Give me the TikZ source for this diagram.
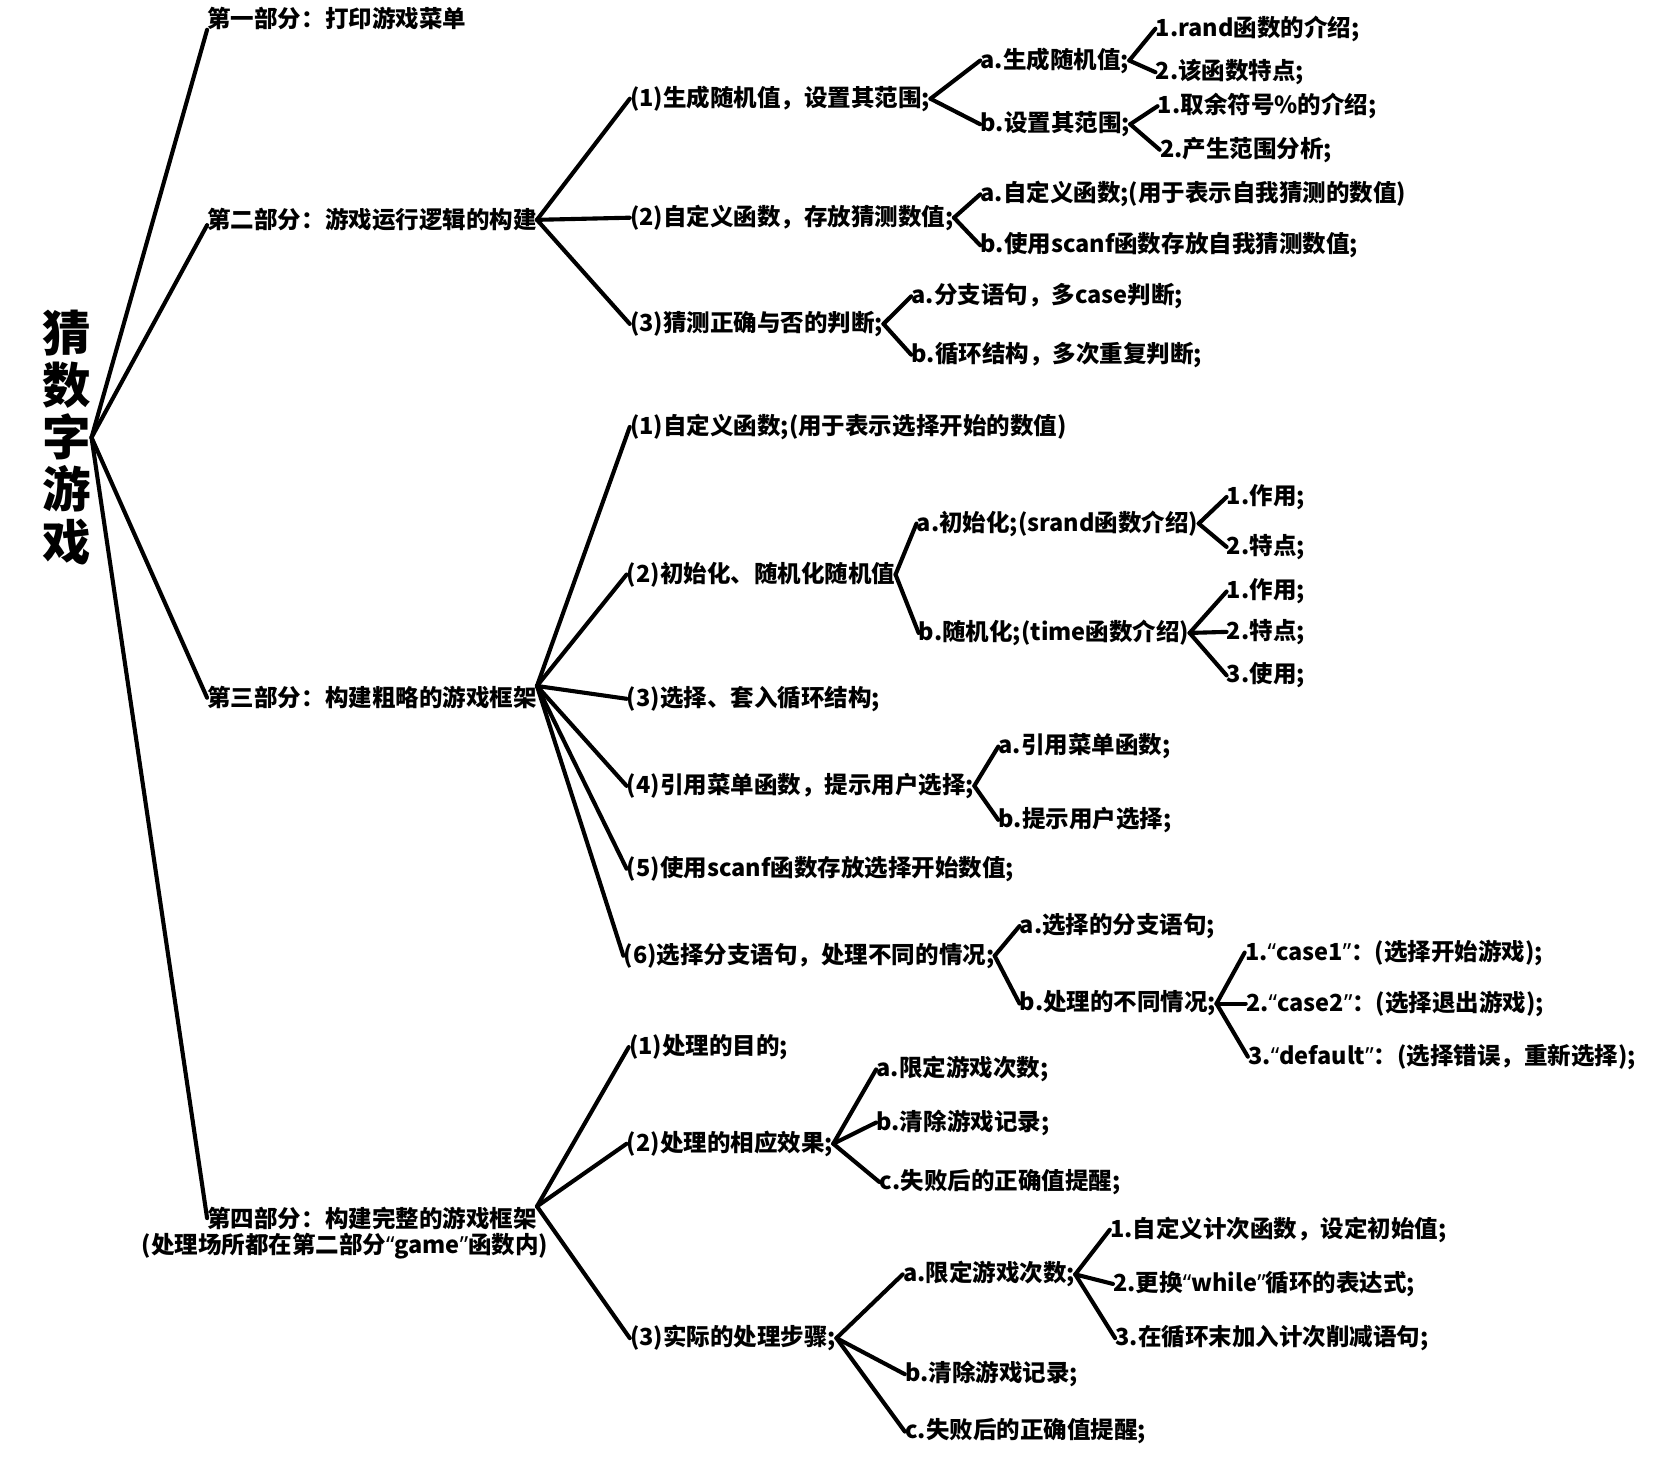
\documentclass[tikz,border=0pt]{standalone}
\usepackage{fontspec}
\setmainfont{Noto Sans CJK SC}
\newfontfamily\qf{Noto Sans}
\newcommand{\myLq}{{\qf “}}
\newcommand{\myRq}{{\qf ”}}
\begin{document}
\begin{tikzpicture}[x=0.02cm,y=-0.02cm,
  lbl/.style={anchor=west,inner sep=0pt,font=\bfseries\fontsize{12.6}{15}\selectfont},
  edge/.style={line width=2.2pt,line cap=round,line join=round}]
\useasboundingbox (0,0) rectangle (1565,1378);
\fill[white] (0,0) rectangle (1565,1378);
% root
\node[inner sep=0pt,align=center,font=\bfseries\fontsize{26}{27.9}\selectfont] (root) at (63,412) {猜\\数\\字\\游\\戏};
% level 1
\node[lbl] (p1) at (195,17) {第一部分：打印游戏菜单};
\node[lbl] (p2) at (195,207) {第二部分：游戏运行逻辑的构建};
\node[lbl] (p3) at (195,657) {第三部分：构建粗略的游戏框架};
\node[lbl] (p4) at (195,1147) {第四部分：构建完整的游戏框架};
\node[lbl] (p4b) at (133,1173) {(处理场所都在第二部分\myLq game\myRq 函数内)};
% part 2
\node[lbl] (q1) at (593,93) {(1)生成随机值，设置其范围;};
\node[lbl] (q2) at (593,205) {(2)自定义函数，存放猜测数值;};
\node[lbl] (q3) at (593,305) {(3)猜测正确与否的判断;};
\node[lbl] (r1) at (923,57) {a.生成随机值;};
\node[lbl] (r2) at (923,117) {b.设置其范围;};
\node[lbl] (s1) at (1088,27) {1.rand函数的介绍;};
\node[lbl] (s2) at (1088,68) {2.该函数特点;};
\node[lbl] (s3) at (1090,100) {1.取余符号\%的介绍;};
\node[lbl] (s4) at (1092,141) {2.产生范围分析;};
\node[lbl] (r3) at (923,183) {a.自定义函数;(用于表示自我猜测的数值)};
\node[lbl] (r4) at (923,231) {b.使用scanf函数存放自我猜测数值;};
\node[lbl] (r5) at (858,279) {a.分支语句，多case判断;};
\node[lbl] (r6) at (858,334) {b.循环结构，多次重复判断;};
% part 3
\node[lbl] (t1) at (593,402) {(1)自定义函数;(用于表示选择开始的数值)};
\node[lbl] (t2) at (590,541) {(2)初始化、随机化随机值};
\node[lbl] (t3) at (590,658) {(3)选择、套入循环结构;};
\node[lbl] (t4) at (590,740) {(4)引用菜单函数，提示用户选择;};
\node[lbl] (t5) at (590,818) {(5)使用scanf函数存放选择开始数值;};
\node[lbl] (t6) at (587,900) {(6)选择分支语句，处理不同的情况;};
\node[lbl] (u1) at (863,493) {a.初始化;(srand函数介绍)};
\node[lbl] (u2) at (865,596) {b.随机化;(time函数介绍)};
\node[lbl] (v1) at (1155,468) {1.作用;};
\node[lbl] (v2) at (1155,515) {2.特点;};
\node[lbl] (v3) at (1155,557) {1.作用;};
\node[lbl] (v4) at (1155,595) {2.特点;};
\node[lbl] (v5) at (1155,636) {3.使用;};
\node[lbl] (u3) at (940,703) {a.引用菜单函数;};
\node[lbl] (u4) at (940,772) {b.提示用户选择;};
\node[lbl] (u5) at (960,872) {a.选择的分支语句;};
\node[lbl] (u6) at (960,945) {b.处理的不同情况;};
\node[lbl] (v6) at (1172,897) {1.\myLq case1\myRq：(选择开始游戏);};
\node[lbl] (v7) at (1173,945) {2.\myLq case2\myRq：(选择退出游戏);};
\node[lbl] (v8) at (1175,995) {3.\myLq default\myRq：(选择错误，重新选择);};
% part 4
\node[lbl] (w1) at (592,986) {(1)处理的目的;};
\node[lbl] (w2) at (590,1077) {(2)处理的相应效果;};
\node[lbl] (w3) at (593,1260) {(3)实际的处理步骤;};
\node[lbl] (x1) at (825,1007) {a.限定游戏次数;};
\node[lbl] (x2) at (825,1057) {b.清除游戏记录;};
\node[lbl] (x3) at (828,1113) {c.失败后的正确值提醒;};
\node[lbl] (x4) at (850,1200) {a.限定游戏次数;};
\node[lbl] (x5) at (852,1294) {b.清除游戏记录;};
\node[lbl] (x6) at (852,1348) {c.失败后的正确值提醒;};
\node[lbl] (y1) at (1045,1158) {1.自定义计次函数，设定初始值;};
\node[lbl] (y2) at (1048,1209) {2.更换\myLq while\myRq 循环的表达式;};
\node[lbl] (y3) at (1050,1260) {3.在循环末加入计次削减语句;};
% edges
\draw[edge] (root.east) -- (p1.south west);
\draw[edge] (root.east) -- ([yshift=-0.1cm]p2.west);
\draw[edge] (root.east) -- (p3.west);
\draw[edge] (root.east) -- (p4.west);
\foreach \c in {q1,q2,q3} \draw[edge] (p2.east) -- (\c.west);
\foreach \c in {r1,r2} \draw[edge] (q1.east) -- (\c.west);
\foreach \c in {s1,s2} \draw[edge] (r1.east) -- (\c.west);
\foreach \c in {s3,s4} \draw[edge] (r2.east) -- (\c.west);
\foreach \c in {r3,r4} \draw[edge] (q2.east) -- (\c.west);
\foreach \c in {r5,r6} \draw[edge] (q3.east) -- (\c.west);
\foreach \c in {t1,t2,t3,t4,t5,t6} \draw[edge] (p3.north east) -- (\c.west);
\foreach \c in {u1,u2} \draw[edge] (t2.east) -- (\c.west);
\foreach \c in {v1,v2} \draw[edge] (u1.east) -- (\c.west);
\foreach \c in {v3,v4,v5} \draw[edge] (u2.east) -- (\c.west);
\foreach \c in {u3,u4} \draw[edge] (t4.east) -- (\c.west);
\foreach \c in {u5,u6} \draw[edge] (t6.east) -- (\c.west);
\foreach \c in {v6,v7,v8} \draw[edge] (u6.east) -- (\c.west);
\foreach \c in {w1,w2,w3} \draw[edge] (p4.north east) -- (\c.west);
\foreach \c in {x1,x2,x3} \draw[edge] (w2.east) -- (\c.west);
\foreach \c in {x4,x5,x6} \draw[edge] (w3.east) -- (\c.west);
\foreach \c in {y1,y2,y3} \draw[edge] (x4.east) -- (\c.west);
\end{tikzpicture}
\end{document}
